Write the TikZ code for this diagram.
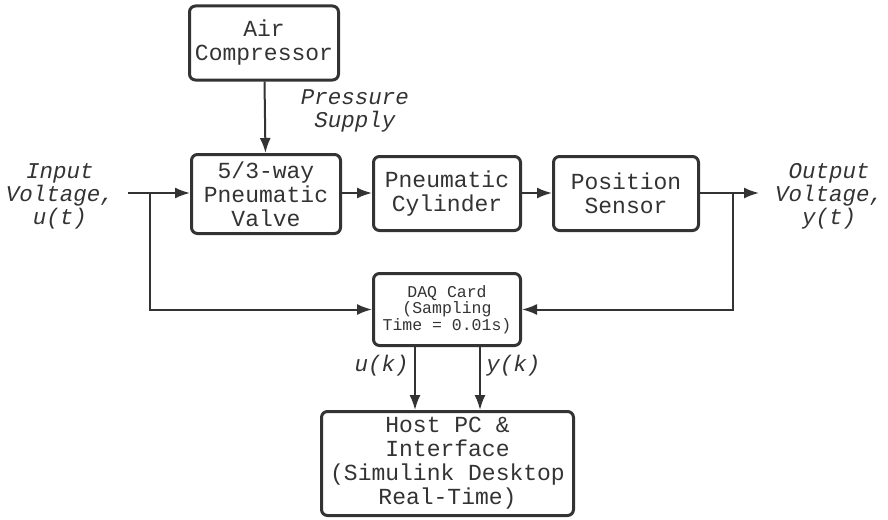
\documentclass[tikz,border=0pt]{standalone}
\usepackage{fontspec}
\setmainfont{Liberation Mono}
\usetikzlibrary{arrows.meta}
\definecolor{ink}{HTML}{333333}

\tikzset{
  blk/.style={draw=ink, line width=3pt, rounded corners=6pt, align=center,
    inner sep=0pt, text=ink, font=\fontsize{23}{24}\selectfont},
  lbl/.style={align=center, text=ink, font=\fontsize{22.5}{23}\selectfont\itshape},
  arr/.style={draw=ink, line width=2pt, -{Latex[length=15pt,width=11pt]}},
  wire/.style={draw=ink, line width=2pt}
}

\begin{document}
\begin{tikzpicture}[x=1pt,y=-1pt]
\useasboundingbox (0,0) rectangle (888,519);

% blocks
\node[blk, minimum width=149, minimum height=74] (air) at (264,43) {Air\\Compressor};
\node[blk, minimum width=149, minimum height=79] (valve) at (266,194) {5/3-way\\Pneumatic\\Valve};
\node[blk, minimum width=147, minimum height=74] (cyl) at (447,193.5) {Pneumatic\\Cylinder};
\node[blk, minimum width=145, minimum height=74] (sensor) at (626,193.5) {Position\\Sensor};
\node[blk, minimum width=147, minimum height=72, font=\fontsize{16.5}{16.5}\selectfont] (daq) at (447,309.5) {DAQ Card\\(Sampling\\Time = 0.01s)};
\node[blk, minimum width=252, minimum height=104] (host) at (447.5,463.5) {Host PC \&\\Interface\\(Simulink Desktop\\Real-Time)};

% labels
\node[lbl] (inlab) at (60,196) {Input\\Voltage,\\u(t)};
\node[lbl] (outlab) at (829,196) {Output\\Voltage,\\y(t)};
\node[lbl] (press) at (355,111) {Pressure\\Supply};

% points on the lines
\coordinate (in) at (128,193);
\coordinate (bl) at (150,193);
\coordinate (br) at (733,193);
\coordinate (out) at (759,193);

% forward path
\draw[arr] (air) -- (valve);
\draw[arr] (in) -- (in -| valve.west);
\draw[arr] (valve.east |- in) -- (cyl.west |- in);
\draw[arr] (cyl.east |- in) -- (sensor.west |- in);
\draw[arr] (sensor.east |- in) -- (out);

% to the DAQ card
\draw[arr] (bl) |- (daq.west);
\draw[arr] (br) |- (daq.east);

% to the host
\draw[arr] ([xshift=-32]daq.south) -- ([xshift=-32]daq.south |- host.north)
  node[lbl, pos=0.3, left=2pt] {u(k)};
\draw[arr] ([xshift=33]daq.south) -- ([xshift=33]daq.south |- host.north)
  node[lbl, pos=0.3, right=2pt] {y(k)};
\end{tikzpicture}
\end{document}
